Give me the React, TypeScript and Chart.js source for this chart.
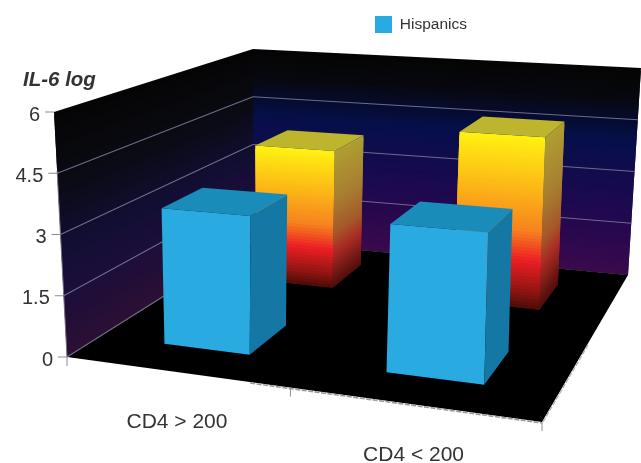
import React, { useEffect, useRef } from "react";
import { Chart, registerables } from "chart.js";

Chart.register(...registerables);

// ---- data ----
const categories = ["CD4 > 200", "CD4 < 200"];
const hispanics = [3.4, 3.5];
const comparison = [3.85, 4.62];
const yTicksStep = 1.5;
const yMax = 6;
const yTitle = "IL-6 log";

// ---- projection geometry (style only) ----
type P = [number, number];
const FLOOR: P[] = [[67, 357], [542, 422], [628, 275], [253, 240]];
const CEIL: P[] = [[54, 112], [556, 141], [641, 68], [253, 49]];
const BAR_CEIL: P[] = [[54, 112], [546, 141], [636, 68], [249, 49]];
const DEPTH_ROWS: [number, number][] = [[0.147, 0.352], [0.655, 0.865]];
const U_NUDGE = 0.006;

function quadMap(q: P[]) {
  const [[x0, y0], [x1, y1], [x2, y2], [x3, y3]] = q;
  const dx3 = x0 - x1 + x2 - x3, dy3 = y0 - y1 + y2 - y3;
  const dx1 = x1 - x2, dx2 = x3 - x2, dy1 = y1 - y2, dy2 = y3 - y2;
  const det = dx1 * dy2 - dx2 * dy1;
  const g = (dx3 * dy2 - dx2 * dy3) / det;
  const h = (dx1 * dy3 - dx3 * dy1) / det;
  const a = x1 - x0 + g * x1, b = x3 - x0 + h * x3;
  const d = y1 - y0 + g * y1, e = y3 - y0 + h * y3;
  return (u: number, v: number): P => {
    const w = g * u + h * v + 1;
    return [(a * u + b * v + x0) / w, (d * u + e * v + y0) / w];
  };
}
const floorAt = quadMap(FLOOR);
const wallTopAt = quadMap(CEIL);
const barTopAt = quadMap(BAR_CEIL);
type Proj = (u: number, v: number, t: number) => P;
// t: 0 = floor, 1 = top of the value axis
const lerp3 = (top: (u: number, v: number) => P): Proj => (u, v, t) => {
  const f = floorAt(u, v), c = top(u, v);
  return [f[0] + (c[0] - f[0]) * t, f[1] + (c[1] - f[1]) * t];
};
const wallAt = lerp3(wallTopAt);
const barAt = lerp3(barTopAt);

type Stop = [number, number[]];
const hex = (s: string) => [1, 3, 5].map((i) => parseInt(s.slice(i, i + 2), 16));
const stops = (list: [number, string][]): Stop[] => list.map(([t, c]) => [t, hex(c)]);
function ramp(list: Stop[], t: number) {
  for (let i = 1; i < list.length; i++) {
    if (t <= list[i][0]) {
      const [t0, c0] = list[i - 1], [t1, c1] = list[i];
      const k = (t - t0) / (t1 - t0);
      return `rgb(${c0.map((c, j) => Math.round(c + (c1[j] - c) * k)).join(",")})`;
    }
  }
  const last = list[list.length - 1][1];
  return `rgb(${last.join(",")})`;
}

const BACK_WALL = stops([[0, "#050505"], [0.15, "#07080f"], [0.35, "#060f4a"], [0.6, "#180a4f"], [0.8, "#28084f"], [1, "#3a0a4c"]]);
const LEFT_WALL = stops([[0, "#050505"], [0.3, "#0a0b14"], [0.55, "#120e33"], [0.75, "#1c0e3a"], [1, "#2c0f33"]]);
const HOT_FRONT = stops([[0, "#fff212"], [0.3, "#fcb816"], [0.55, "#f6821f"], [0.72, "#ed1f24"], [0.9, "#8f1512"], [1, "#4a0c08"]]);
const HOT_SIDE = stops([[0, "#ae9f33"], [0.35, "#a88030"], [0.6, "#a5592a"], [0.75, "#a82a24"], [1, "#4e0e0a"]]);
const HOT_TOP = "#bdb52d";
const BLUE_FRONT = "#29abe2";
const BLUE_SIDE = "#1577a3";
const BLUE_TOP = "#1a8cba";
const TEXT = "#333333";
const GRID = "#6f6b88";
const FONT = "'Liberation Sans', Arial, sans-serif";

function poly(ctx: CanvasRenderingContext2D, pts: P[], fill: string) {
  ctx.beginPath();
  pts.forEach((p, i) => (i ? ctx.lineTo(p[0], p[1]) : ctx.moveTo(p[0], p[1])));
  ctx.closePath();
  ctx.fillStyle = fill;
  ctx.fill();
}
function line(ctx: CanvasRenderingContext2D, a: P, b: P, color: string, w = 1) {
  ctx.beginPath();
  ctx.moveTo(a[0], a[1]);
  ctx.lineTo(b[0], b[1]);
  ctx.strokeStyle = color;
  ctx.lineWidth = w;
  ctx.stroke();
}
// fill a vertical face in slices from top to bottom; each slice reaches down
// under the next one, so no seams appear between them
function strips(
  ctx: CanvasRenderingContext2D, proj: Proj,
  a: [number, number], b: [number, number],
  t1: number, list: Stop[],
) {
  const n = Math.max(24, Math.round(t1 * 70));
  for (let i = 0; i < n; i++) {
    const hi = t1 - (t1 * i) / n;
    const lo = Math.max(0, t1 - (t1 * (i + 2)) / n);
    poly(ctx, [proj(a[0], a[1], hi), proj(b[0], b[1], hi), proj(b[0], b[1], lo), proj(a[0], a[1], lo)], ramp(list, (i + 0.5) / n));
  }
}

const scene3d = {
  id: "scene3d",
  afterLayout(chart: any) {
    const lg = chart.legend;
    const w = lg.right - lg.left;
    lg.left = 375;
    lg.right = 375 + w;
    lg.top = 16;
    lg.bottom = 40;
    lg.height = 24;
  },
  beforeDatasetsDraw(chart: any) {
    const { ctx, chartArea: area, scales } = chart;
    const yS = scales.y, xS = scales.x;
    const toT = (py: number) => (area.bottom - py) / (area.bottom - area.top);
    ctx.save();

    // walls and floor
    strips(ctx, wallAt, [0, 1], [1, 1], 1, BACK_WALL);
    strips(ctx, wallAt, [0, 0], [0, 1], 1, LEFT_WALL);
    poly(ctx, FLOOR, "#000000");

    // gridlines from the value scale
    yS.ticks.forEach((tk: any) => {
      const t = toT(yS.getPixelForValue(tk.value));
      if (t < 0.99) {
        line(ctx, wallAt(0, 0, t), wallAt(0, 1, t), GRID, 1.2);
        if (t > 0.01) line(ctx, wallAt(0, 1, t), wallAt(1, 1, t), GRID, 1.2);
      }
    });
    line(ctx, wallAt(0, 0, 0), wallAt(0, 0, 0.76), "#77748a", 1);

    // floor edge roughness
    ctx.save();
    ctx.setLineDash([5, 1.5]);
    line(ctx, (() => { const p = floorAt(0.42, 0); return [p[0], p[1] + 1] as P; })(), [FLOOR[1][0], FLOOR[1][1] + 1], "#9a9a9a", 1.6);
    line(ctx, [FLOOR[1][0] + 1, FLOOR[1][1]], (() => { const p = floorAt(1, 0.45); return [p[0] + 1, p[1]] as P; })(), "#b0b0b0", 1.2);
    ctx.restore();

    // bars: the back row first
    for (let ds = chart.data.datasets.length - 1; ds >= 0; ds--) {
      const [v0, v1] = DEPTH_ROWS[ds === 0 ? 0 : 1];
      chart.getDatasetMeta(ds).data.forEach((el: any) => {
        const u0 = (el.x - el.width / 2 - area.left) / area.width + U_NUDGE;
        const u1 = (el.x + el.width / 2 - area.left) / area.width + U_NUDGE;
        const t = toT(el.y);
        if (ds === 0) {
          poly(ctx, [barAt(u0, v0, t), barAt(u1, v0, t), barAt(u1, v0, 0), barAt(u0, v0, 0)], BLUE_FRONT);
          poly(ctx, [barAt(u1, v0, t), barAt(u1, v1, t), barAt(u1, v1, 0), barAt(u1, v0, 0)], BLUE_SIDE);
          poly(ctx, [barAt(u0, v0, t), barAt(u1, v0, t), barAt(u1, v1, t), barAt(u0, v1, t)], BLUE_TOP);
        } else {
          strips(ctx, barAt, [u0, v0], [u1, v0], t, HOT_FRONT);
          strips(ctx, barAt, [u1, v0], [u1, v1], t, HOT_SIDE);
          poly(ctx, [barAt(u0, v0, t), barAt(u1, v0, t), barAt(u1, v1, t), barAt(u0, v1, t)], HOT_TOP);
        }
      });
    }

    // value axis ticks and labels
    yS.ticks.forEach((tk: any) => {
      const t = toT(yS.getPixelForValue(tk.value));
      const p = wallAt(0, 0, t);
      const left = p[0] - 9;
      line(ctx, [left, p[1]], p, "#8c8c8c", 1);
      ctx.font = `20px ${FONT}`;
      ctx.textAlign = "right";
      ctx.textBaseline = "middle";
      ctx.fillStyle = TEXT;
      ctx.fillText(tk.label, left - 5, p[1] + 3);
    });
    ctx.font = `italic bold 20.5px ${FONT}`;
    ctx.textAlign = "left";
    ctx.textBaseline = "alphabetic";
    ctx.fillText(yTitle, 23, 86);

    // category axis ticks and labels
    [0, 0.506, 1].forEach((u) => {
      const p = floorAt(u, 0);
      line(ctx, p, [p[0], p[1] + 9], "#8c8c8c", 1);
    });
    ctx.font = `21px ${FONT}`;
    ctx.textAlign = "center";
    ctx.textBaseline = "middle";
    xS.ticks.forEach((tk: any, i: number) => {
      const u = (xS.getPixelForTick(i) - area.left) / area.width;
      const p = floorAt(u, 0);
      ctx.fillText(xS.getLabelForValue(tk.value), p[0] + 3.5, p[1] + 51);
    });
    ctx.restore();
    return false;
  },
};

export default function App() {
  const ref = useRef<HTMLCanvasElement>(null);
  useEffect(() => {
    const chart = new Chart(ref.current!, {
      type: "bar",
      data: {
        labels: categories,
        datasets: [
          { label: "Hispanics", data: hispanics, backgroundColor: BLUE_FRONT },
          { label: "Comparison", data: comparison, backgroundColor: "#f6821f" },
        ],
      },
      options: {
        responsive: false,
        animation: false,
        layout: { padding: 0 },
        datasets: { bar: { grouped: false, barPercentage: 0.4, categoryPercentage: 1 } },
        scales: {
          x: { display: false },
          y: { display: false, min: 0, max: yMax, ticks: { stepSize: yTicksStep } },
        },
        plugins: {
          tooltip: { enabled: false },
          legend: {
            position: "top",
            align: "start",
            labels: {
              boxWidth: 17,
              boxHeight: 17,
              padding: 0,
              color: TEXT,
              font: { family: FONT, size: 15.5 },
              filter: (item: any) => item.datasetIndex === 0,
            },
          },
        },
      } as any,
      plugins: [scene3d as any],
    });
    return () => chart.destroy();
  }, []);
  return (
    <div style={{ position: "fixed", left: 0, top: 0, width: 641, height: 463, background: "#fff" }}>
      <canvas ref={ref} width={641} height={463} style={{ display: "block" }} />
    </div>
  );
}
